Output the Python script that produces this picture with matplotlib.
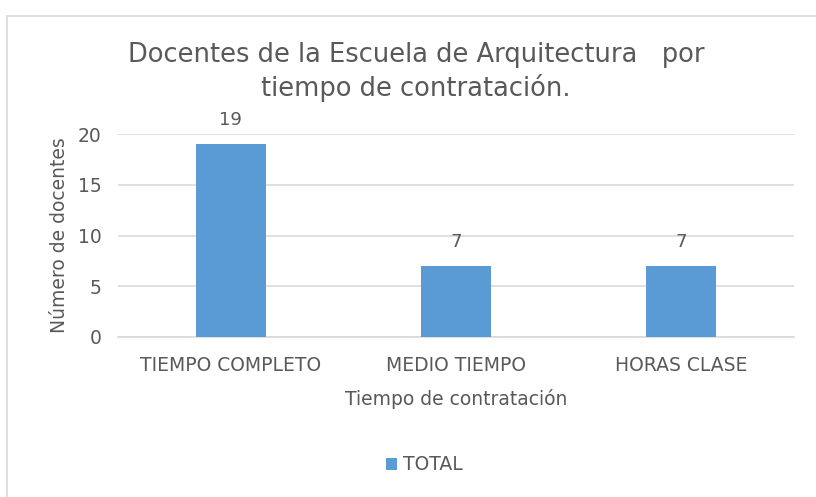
import matplotlib.pyplot as plt
from matplotlib.patches import Rectangle

# data
categorias = ["TIEMPO COMPLETO", "MEDIO TIEMPO", "HORAS CLASE"]
docentes = [19, 7, 7]
yticks = [0, 5, 10, 15, 20]

azul = "#5B9BD5"
gris_txt = "#595959"
plt.rcParams['font.family'] = ['DejaVu Sans']

fig = plt.figure(figsize=(8.16, 4.97), dpi=100)
ax = fig.add_axes([118/816, 1 - 337/497, 676/816, 203/497])

x = range(len(categorias))
barras = ax.bar(x, docentes, width=0.31, color=azul, label="TOTAL", zorder=3)
for xi, v in zip(x, docentes):
    ax.annotate(str(v), (xi, v), xytext=(0, 11), textcoords="offset points",
                ha="center", va="bottom", fontsize=13, color=gris_txt)

ax.set_xlim(-0.5, len(categorias) - 0.5)
ax.set_ylim(0, 20)
ax.set_yticks(yticks)
ax.set_xticks(list(x))
ax.set_xticklabels(categorias)
ax.tick_params(axis="both", length=0, labelsize=13.5, colors=gris_txt)
ax.tick_params(axis="x", pad=14)
ax.tick_params(axis="y", pad=12)
ax.grid(axis="y", color="#D9D9D9", linewidth=1.2, zorder=0)
for s in ["top", "right", "left"]:
    ax.spines[s].set_visible(False)
ax.spines["bottom"].set_color("#D9D9D9")
ax.spines["bottom"].set_linewidth(1.2)

ax.set_xlabel("Tiempo de contratación", fontsize=13.5, color=gris_txt, labelpad=10)
ax.set_ylabel("Número de docentes", fontsize=13.5, color=gris_txt, labelpad=6)

fig.text(0.51, 1 - 72/497, "Docentes de la Escuela de Arquitectura   por\ntiempo de contratación.",
         ha="center", va="center", fontsize=18.5, color=gris_txt, linespacing=1.3)

fig.legend(handles=[barras], labels=["TOTAL"], loc="center", bbox_to_anchor=(0.52, 1 - 465/497),
           frameon=False, fontsize=13.5, handlelength=0.6, handleheight=0.6, handletextpad=0.3,
           labelcolor=gris_txt)

fig.patches.append(Rectangle((7/816, -0.1), 1.2, 1 - 16/497 + 0.1, transform=fig.transFigure,
                             fill=False, edgecolor="#D9D9D9", linewidth=1.2))

fig.savefig("out.png", dpi=100)
